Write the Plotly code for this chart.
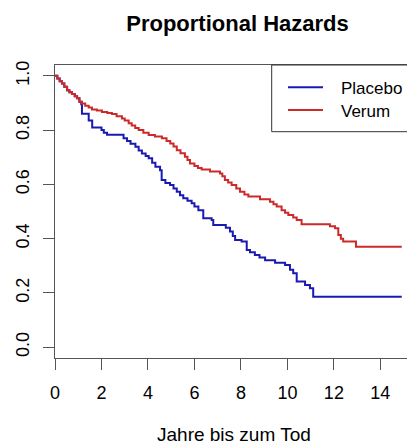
import plotly.graph_objects as go

# Placebo (Kaplan-Meier steps)
placebo_t = [0, 0.1, 0.2, 0.3, 0.4, 0.52, 0.62, 0.73, 0.85, 0.95,
             1.05, 1.13, 1.16, 1.45, 1.6, 2.0, 2.1, 2.24, 2.95, 3.1,
             3.25, 3.46, 3.6, 3.74, 3.9, 4.03, 4.18, 4.32, 4.52, 4.59,
             4.75, 4.95, 5.1, 5.24, 5.38, 5.52, 5.7, 5.88, 6.0, 6.17,
             6.38, 6.74, 6.81, 7.35, 7.53, 7.65, 7.75, 8.03, 8.25, 8.39,
             8.6, 8.8, 9.04, 9.47, 9.9, 10.11, 10.25, 10.4, 10.76, 10.97,
             11.11, 14.92]
placebo_s = [1.0, 0.99, 0.98, 0.972, 0.96, 0.947, 0.94, 0.933, 0.925, 0.917,
             0.905, 0.895, 0.86, 0.835, 0.81, 0.80, 0.79, 0.783, 0.77, 0.76,
             0.75, 0.739, 0.725, 0.714, 0.705, 0.696, 0.68, 0.665, 0.652, 0.616,
             0.605, 0.598, 0.585, 0.573, 0.56, 0.549, 0.54, 0.53, 0.518, 0.505,
             0.475, 0.469, 0.45, 0.44, 0.426, 0.41, 0.395, 0.389, 0.358, 0.35,
             0.34, 0.33, 0.32, 0.311, 0.303, 0.285, 0.272, 0.242, 0.229, 0.217,
             0.186, 0.186]

# Verum
verum_t = [0, 0.1, 0.2, 0.3, 0.4, 0.52, 0.62, 0.73, 0.85, 0.95,
           1.05, 1.16, 1.3, 1.45, 1.59, 1.8, 2.02, 2.25, 2.45, 2.65,
           2.88, 3.0, 3.17, 3.3, 3.45, 3.6, 3.8, 4.03, 4.3, 4.6,
           4.8, 4.96, 5.1, 5.24, 5.4, 5.59, 5.7, 5.81, 6.0, 6.15,
           6.31, 6.67, 7.1, 7.2, 7.31, 7.45, 7.6, 7.8, 7.96, 8.15,
           8.32, 8.82, 9.25, 9.4, 9.54, 9.75, 9.9, 10.04, 10.25, 10.4,
           10.61, 11.83, 12.05, 12.19, 12.3, 12.4, 12.95, 14.92]
verum_s = [1.0, 0.99, 0.98, 0.972, 0.96, 0.947, 0.94, 0.933, 0.925, 0.917,
           0.905, 0.898, 0.89, 0.883, 0.876, 0.872, 0.867, 0.863, 0.859, 0.851,
           0.843, 0.835, 0.825, 0.817, 0.808, 0.8, 0.79, 0.782, 0.776, 0.77,
           0.76, 0.751, 0.74, 0.726, 0.715, 0.702, 0.69, 0.677, 0.668, 0.66,
           0.655, 0.647, 0.64, 0.63, 0.616, 0.607, 0.598, 0.585, 0.573, 0.563,
           0.555, 0.545, 0.536, 0.527, 0.518, 0.505, 0.495, 0.487, 0.478, 0.469,
           0.453, 0.446, 0.438, 0.413, 0.40, 0.389, 0.37, 0.37]

series_names = ["Placebo", "Verum"]
series_colors = ["#1a1ab0", "#cc2a2a"]

x_ticks = [0, 2, 4, 6, 8, 10, 12, 14]
y_ticks = [0.0, 0.2, 0.4, 0.6, 0.8, 1.0]
y_tick_text = ["0.0", "0.2", "0.4", "0.6", "0.8", "1.0"]

FONT = "Liberation Sans, Arial, sans-serif"
AXC = "#555555"
FS_TICK = 18
FS_LAB = 19
FS_LEG = 17

fig = go.Figure()
for name, t, s, c in zip(series_names, [placebo_t, verum_t], [placebo_s, verum_s], series_colors):
    fig.add_trace(go.Scatter(x=t, y=s, mode="lines", name=name,
                             line=dict(color=c, width=2, shape="hv")))

W, H = 407, 445
L, R, T, B = 55, 0, 65, 87
plot_h = H - T - B
plot_w = W - L - R

def px_x(px):
    return (px - L) / plot_w

def px_y(py):
    return (H - B - py) / plot_h

# legend drawn as box + line samples + labels (paper coordinates)
shapes = [dict(type="rect", xref="paper", yref="paper",
               x0=px_x(271.7), x1=px_x(430), y0=px_y(131.7), y1=px_y(65),
               line=dict(color="#333333", width=1), fillcolor="white", layer="above")]
annotations = []
for i, (name, c) in enumerate(zip(series_names, series_colors)):
    ly = 87.3 + i * 22.7
    shapes.append(dict(type="line", xref="paper", yref="paper",
                       x0=px_x(288), x1=px_x(323), y0=px_y(ly), y1=px_y(ly),
                       line=dict(color=c, width=2), layer="above"))
    annotations.append(dict(text=name, xref="paper", yref="paper",
                            x=px_x(339), y=px_y(ly + 1.2), xanchor="left", yanchor="middle",
                            showarrow=False, font=dict(size=FS_LEG, family=FONT, color="black")))

annotations.append(dict(text="Jahre bis zum Tod", xref="paper", yref="paper",
                        x=px_x(234.5), y=px_y(434.5),
                        xanchor="center", yanchor="middle", showarrow=False,
                        font=dict(size=FS_LAB, family=FONT)))

fig.update_layout(
    width=W, height=H,
    margin=dict(l=L, r=R, t=T, b=B),
    paper_bgcolor="white", plot_bgcolor="white",
    font=dict(family=FONT, size=FS_TICK, color="black"),
    title=dict(text="<b>Proportional Hazards</b>", font=dict(size=22, family=FONT),
               x=px_x(237.5), xref="paper", xanchor="center",
               y=1 - 23 / H, yref="container", yanchor="middle"),
    showlegend=False,
    xaxis=dict(range=[0, plot_w / 23.24], tickvals=x_ticks, showgrid=False, zeroline=False,
               showline=True, linecolor=AXC, linewidth=1, mirror=True,
               ticks="outside", ticklen=11, tickcolor=AXC, tickwidth=1,
               tickfont=dict(size=FS_TICK), ticklabelstandoff=7),
    yaxis=dict(range=[-0.04, 1.04], tickvals=y_ticks, ticktext=y_tick_text,
               showgrid=False, zeroline=False,
               showline=True, linecolor=AXC, linewidth=1,
               ticks="outside", ticklen=11, tickcolor=AXC, tickwidth=1,
               tickangle=-90, tickfont=dict(size=FS_TICK), ticklabelstandoff=7),
    shapes=shapes,
    annotations=annotations,
)

fig.write_html("out.html")
